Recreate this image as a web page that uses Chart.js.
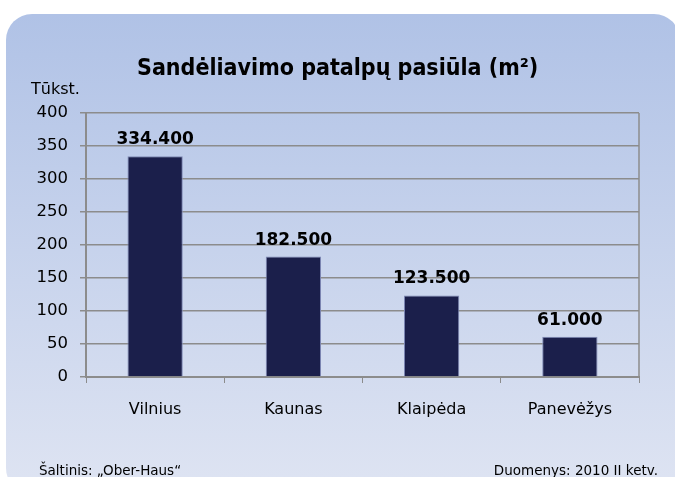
<!DOCTYPE html>
<html>
<head>
<meta charset="utf-8">
<script src="https://cdn.jsdelivr.net/npm/chart.js@4"></script>
<style>
  html, body { margin: 0; padding: 0; background: #fff; }
  #wrap { width: 675px; height: 477px; }
</style>
</head>
<body>
<div id="wrap"><canvas id="myBarChart"></canvas></div>
<script>
var cities = ['Vilnius', 'Kaunas', 'Klaipėda', 'Panevėžys'];
var supply = [334.4, 182.5, 123.5, 61.0];
var supplyLabels = ['334.400', '182.500', '123.500', '61.000'];

var titleText = 'Sandėliavimo patalpų pasiūla (m²)';
var unitText = 'Tūkst.';
var sourceText = 'Šaltinis: „Ober-Haus“';
var dateText = 'Duomenys: 2010 II ketv.';

// panel with gradient + texts
const panel = {
  id: 'panel',
  beforeDraw(chart) {
    const c = chart.ctx;
    c.save();
    const g = c.createLinearGradient(0, 14, 0, 477);
    g.addColorStop(0, '#B0C2E6');
    g.addColorStop(1, '#DDE3F2');
    c.fillStyle = g;
    c.beginPath();
    c.roundRect(6, 14, 674, 480, 26);
    c.fill();
    c.restore();
  },
  afterDraw(chart) {
    const c = chart.ctx;
    const a = chart.chartArea;
    c.save();
    // right border of plot area
    c.strokeStyle = '#8C8C8C';
    c.lineWidth = 1.5;
    c.beginPath();
    c.moveTo(a.right, a.top);
    c.lineTo(a.right, a.bottom);
    c.stroke();

    c.fillStyle = '#000';
    c.textBaseline = 'alphabetic';
    c.textAlign = 'left';
    c.font = 'bold 23px "DejaVu Sans Condensed", "DejaVu Sans"';
    c.fillText(titleText, 137, 75);
    c.font = '16px "DejaVu Sans"';
    c.fillText(unitText, 31, 94);
    c.font = '13.5px "DejaVu Sans"';
    c.fillText(sourceText, 39, 475);
    c.textAlign = 'right';
    c.fillText(dateText, 658, 475);
    c.restore();
  },
  afterDatasetsDraw(chart) {
    const c = chart.ctx;
    const meta = chart.getDatasetMeta(0);
    c.save();
    c.fillStyle = '#000';
    c.font = 'bold 17px "DejaVu Sans"';
    c.textAlign = 'center';
    c.textBaseline = 'alphabetic';
    meta.data.forEach(function (bar, i) {
      c.fillText(supplyLabels[i], bar.x, bar.y - 12);
    });
    c.restore();
  }
};

var ctx = document.getElementById('myBarChart');
var myBarChart = new Chart(ctx, {
  type: 'bar',
  data: {
    labels: cities,
    datasets: [{
      label: 'Pasiūla',
      data: supply,
      backgroundColor: '#1B1F4B',
      borderColor: '#7E88B4',
      borderWidth: 1,
      barPercentage: 0.4,
      categoryPercentage: 1.0,
    }]
  },
  options: {
    responsive: true,
    maintainAspectRatio: false,
    animation: false,
    layout: { padding: { top: 113, right: 36, bottom: 0, left: 0 } },
    plugins: {
      legend: { display: false },
      title: { display: false },
      tooltip: { enabled: false },
    },
    scales: {
      x: {
        afterFit(scale) { scale.height = 100; },
        grid: {
          offset: true,
          drawOnChartArea: false,
          tickLength: 6,
          color: '#8C8C8C',
        },
        border: { color: '#8C8C8C', width: 2 },
        ticks: {
          color: '#000',
          padding: 17,
          font: { family: 'DejaVu Sans', size: 16 },
        },
      },
      y: {
        min: 0,
        max: 400,
        afterFit(scale) { scale.width = 86; },
        grid: {
          color: '#8C8C8C',
          lineWidth: 1.5,
          tickLength: 6,
        },
        border: { color: '#8C8C8C', width: 2 },
        ticks: {
          stepSize: 50,
          color: '#000',
          padding: 12,
          font: { family: 'DejaVu Sans', size: 16.5 },
        },
      },
    },
  },
  plugins: [panel],
});
</script>
</body>
</html>
